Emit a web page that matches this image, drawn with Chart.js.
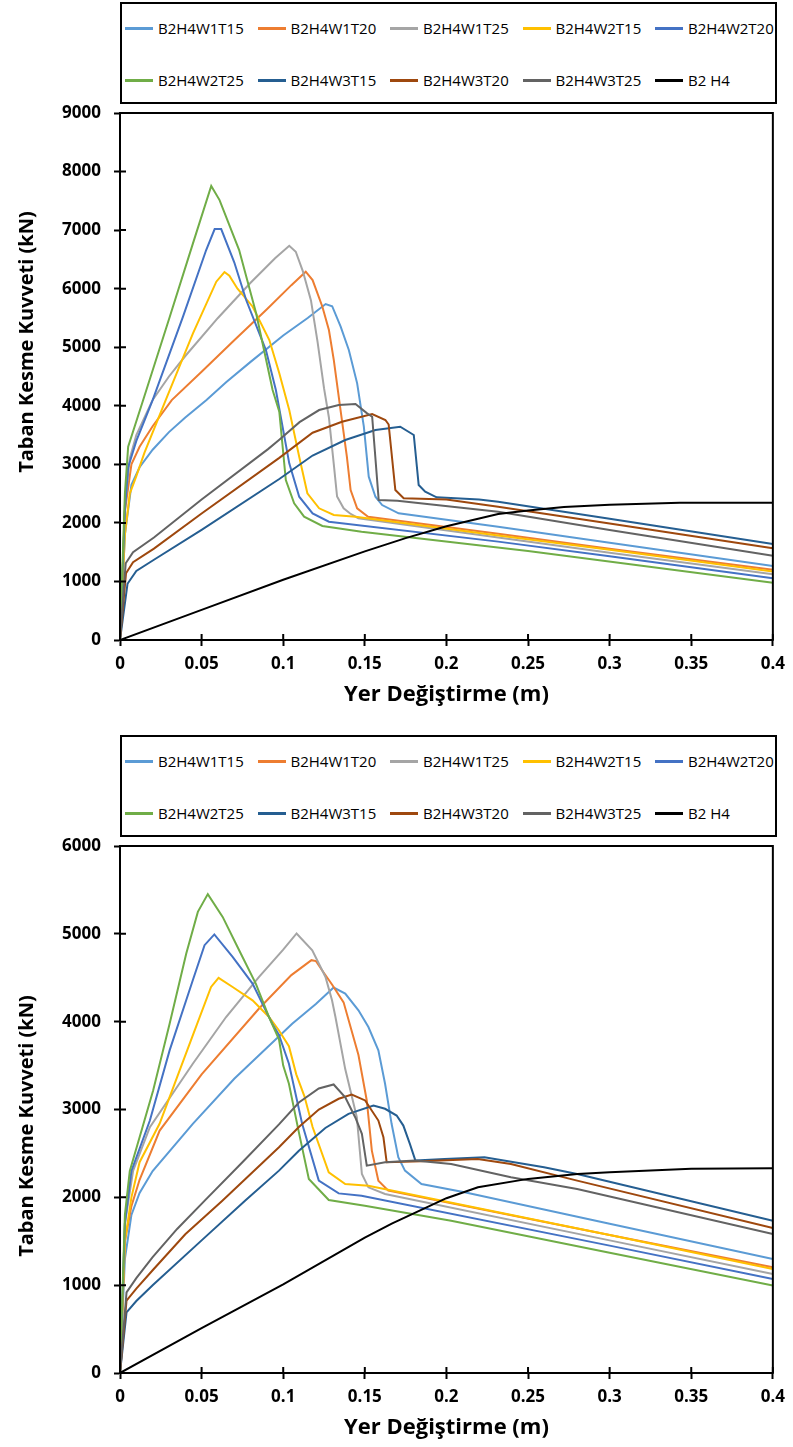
<!DOCTYPE html>
<html>
<head>
<meta charset="utf-8">
<script src="https://cdn.jsdelivr.net/npm/chart.js@4"></script>
<style>
    body { margin: 0; background: #fff; }
    .page { position: relative; width: 793px; height: 1447px; overflow: hidden; }
    .block { position: absolute; left: 0; width: 793px; height: 714px; }
    .legend {
        position: absolute; left: 120px; top: 2px; width: 657px; height: 102px;
        border: 2px solid #000; box-sizing: border-box; background: #fff;
    }
    .item {
        position: absolute; height: 20px; line-height: 20px; display: flex; align-items: center;
        font: 15px "Open Sans", sans-serif; color: #000; white-space: nowrap;
    }
    .item i { display: inline-block; width: 28px; height: 3px; margin-right: 5px; }
</style>
</head>
<body>
<div class="page">
    <div class="block" style="top:0">
        <canvas id="chart-top"></canvas>
        <div class="legend" id="legend-top"></div>
    </div>
    <div class="block" style="top:733px">
        <canvas id="chart-bottom"></canvas>
        <div class="legend" id="legend-bottom"></div>
    </div>
</div>
<script>
// Series names and colours (legend order)
const seriesNames = ["B2H4W1T15", "B2H4W1T20", "B2H4W1T25", "B2H4W2T15", "B2H4W2T20",
    "B2H4W2T25", "B2H4W3T15", "B2H4W3T20", "B2H4W3T25", "B2 H4"];
const seriesColors = ["#5B9BD5", "#ED7D31", "#A5A5A5", "#FFC000", "#4472C4",
    "#70AD47", "#255E91", "#9E480E", "#636363", "#000000"];

// Axis ranges
const xMax = 0.4;
const xStep = 0.05;
const yMaxTop = 9000;
const yMaxBottom = 6000;
const yStep = 1000;
const xTitle = "Yer Değiştirme (m)";
const yTitle = "Taban Kesme Kuvveti (kN)";

// Top chart: [displacement (m), base shear (kN)]
const topW1T15 = [[0,0],[0.003,1800],[0.007,2650],[0.012,2950],[0.02,3250],[0.03,3550],[0.04,3800],[0.053,4100],[0.065,4400],[0.08,4750],[0.1,5200],[0.115,5500],[0.126,5738],[0.13,5700],[0.1352,5350],[0.1402,4952],[0.1453,4383],[0.1494,3643],[0.1524,2789],[0.1565,2447],[0.1606,2305],[0.1707,2163],[0.2317,1935],[0.3,1660],[0.4,1264]];
const topW1T20 = [[0,0],[0.003,2200],[0.007,3000],[0.012,3300],[0.02,3650],[0.0317,4098],[0.05,4580],[0.07,5120],[0.09,5650],[0.105,6060],[0.1138,6290],[0.118,6147],[0.124,5692],[0.128,5294],[0.131,4781],[0.135,3950],[0.139,3130],[0.1413,2561],[0.1453,2249],[0.152,2106],[0.2317,1815],[0.3,1560],[0.4,1200]];
const topW1T25 = [[0,0],[0.003,2300],[0.006,3100],[0.01,3500],[0.02,4100],[0.03,4500],[0.04,4850],[0.06,5500],[0.08,6100],[0.095,6520],[0.1037,6733],[0.1077,6631],[0.112,6300],[0.117,5800],[0.121,5100],[0.125,4300],[0.128,3800],[0.131,3000],[0.133,2450],[0.137,2250],[0.141,2160],[0.146,2080],[0.2317,1750],[0.3,1490],[0.4,1121]];
const topW2T15 = [[0,0],[0.003,1800],[0.006,2500],[0.01,2800],[0.015,3200],[0.028,4098],[0.0447,5238],[0.059,6119],[0.064,6284],[0.067,6220],[0.072,6000],[0.0813,5692],[0.0915,5123],[0.0976,4554],[0.1037,3927],[0.1098,3130],[0.1148,2505],[0.122,2249],[0.131,2135],[0.1443,2106],[0.2317,1786],[0.3,1540],[0.4,1170]];
const topW2T20 = [[0,0],[0.003,2200],[0.005,2950],[0.01,3400],[0.02,4098],[0.0386,5521],[0.0528,6660],[0.058,7018],[0.062,7018],[0.07,6450],[0.0773,5806],[0.0894,4952],[0.0955,4269],[0.1037,3017],[0.1098,2447],[0.118,2163],[0.128,2020],[0.2317,1680],[0.3,1430],[0.4,1053]];
const topW2T25 = [[0,0],[0.003,2500],[0.005,3300],[0.0142,4098],[0.0305,5521],[0.0447,6774],[0.0559,7753],[0.061,7513],[0.073,6660],[0.0834,5579],[0.0935,4269],[0.0976,3900],[0.1016,2732],[0.1067,2334],[0.1128,2106],[0.124,1947],[0.148,1850],[0.25,1520],[0.4,979]];
const topW3T15 = [[0,0],[0.0046,960],[0.01,1180],[0.0208,1370],[0.05,1880],[0.0976,2750],[0.118,3150],[0.138,3415],[0.1565,3586],[0.1717,3643],[0.18,3501],[0.183,2647],[0.187,2533],[0.194,2437],[0.22,2400],[0.2317,2362],[0.3,2070],[0.4,1639]];
const topW3T20 = [[0,0],[0.0037,1140],[0.008,1330],[0.0208,1560],[0.05,2160],[0.0976,3110],[0.118,3540],[0.136,3728],[0.1545,3859],[0.1626,3757],[0.1646,3680],[0.1687,2561],[0.1738,2420],[0.2,2400],[0.2317,2277],[0.3,1990],[0.4,1565]];
const topW3T25 = [[0,0],[0.0035,1310],[0.008,1500],[0.0208,1750],[0.05,2400],[0.0907,3260],[0.0976,3420],[0.11,3720],[0.122,3927],[0.134,4013],[0.1443,4030],[0.1514,3871],[0.1545,3813],[0.1585,2391],[0.17,2380],[0.2317,2191],[0.3,1880],[0.4,1440]];
const topB2H4 = [[0,0],[0.05,514],[0.1,1028],[0.15,1514],[0.175,1740],[0.2,1943],[0.2317,2150],[0.25,2210],[0.272,2270],[0.3,2310],[0.343,2345],[0.4,2345]];

// Bottom chart: [displacement (m), base shear (kN)]
const botW1T15 = [[0,0],[0.003,1300],[0.007,1800],[0.012,2050],[0.02,2300],[0.0446,2837],[0.07,3350],[0.1055,3977],[0.12,4200],[0.1309,4388],[0.138,4319],[0.1461,4129],[0.1522,3939],[0.1583,3673],[0.1624,3293],[0.1664,2837],[0.1705,2456],[0.1746,2304],[0.1847,2152],[0.2111,2057],[0.3,1700],[0.4,1298]];
const botW1T20 = [[0,0],[0.003,1500],[0.007,1900],[0.012,2200],[0.0243,2760],[0.05,3400],[0.0852,4150],[0.105,4530],[0.1173,4700],[0.12,4690],[0.1238,4585],[0.13,4420],[0.137,4220],[0.1461,3620],[0.1512,3103],[0.1543,2532],[0.1583,2190],[0.1644,2076],[0.3,1570],[0.4,1203]];
const botW1T25 = [[0,0],[0.003,1700],[0.008,2300],[0.0183,2798],[0.0446,3521],[0.065,4053],[0.0852,4509],[0.1,4820],[0.1082,5004],[0.1178,4813],[0.1259,4509],[0.1299,4243],[0.132,4053],[0.138,3460],[0.1451,2912],[0.1482,2266],[0.1522,2114],[0.1624,2038],[0.3,1510],[0.4,1127]];
const botW2T15 = [[0,0],[0.003,1500],[0.007,2000],[0.012,2400],[0.0243,2840],[0.0304,3140],[0.0446,3844],[0.0558,4395],[0.0604,4498],[0.069,4395],[0.0812,4243],[0.0913,4053],[0.0974,3900],[0.1035,3720],[0.108,3400],[0.113,3150],[0.118,2800],[0.1279,2285],[0.138,2152],[0.1522,2133],[0.3,1570],[0.4,1184]];
const botW2T20 = [[0,0],[0.003,1700],[0.007,2300],[0.0183,2874],[0.0304,3673],[0.0446,4471],[0.0518,4871],[0.0578,4993],[0.069,4737],[0.0812,4434],[0.0933,3977],[0.0974,3850],[0.1035,3521],[0.1116,2837],[0.1218,2190],[0.134,2045],[0.148,2019],[0.3,1450],[0.4,1070]];
const botW2T25 = [[0,0],[0.003,1800],[0.006,2300],[0.0132,2760],[0.0203,3217],[0.0304,3977],[0.0406,4776],[0.0477,5250],[0.0538,5452],[0.0629,5193],[0.073,4813],[0.0832,4434],[0.0913,4053],[0.0974,3800],[0.1,3500],[0.1035,3293],[0.1096,2740],[0.1157,2209],[0.1279,1970],[0.15,1905],[0.2029,1734],[0.3,1370],[0.4,995]];
const botW3T15 = [[0,0],[0.004,691],[0.01,820],[0.02,1000],[0.05,1510],[0.0766,1962],[0.0974,2304],[0.1096,2530],[0.1258,2790],[0.14,2951],[0.1553,3046],[0.1624,3008],[0.1695,2931],[0.1736,2817],[0.1776,2608],[0.181,2418],[0.1989,2437],[0.2233,2456],[0.2598,2342],[0.2801,2266],[0.4,1734]];
const botW3T20 = [[0,0],[0.004,823],[0.01,960],[0.02,1170],[0.04,1580],[0.0627,1962],[0.0974,2570],[0.1096,2800],[0.1218,3000],[0.134,3122],[0.142,3171],[0.1502,3103],[0.1583,2874],[0.1614,2684],[0.1634,2399],[0.1847,2410],[0.2192,2437],[0.2395,2380],[0.2801,2190],[0.4,1650]];
const botW3T25 = [[0,0],[0.004,918],[0.01,1080],[0.02,1320],[0.035,1640],[0.0519,1962],[0.075,2400],[0.0974,2830],[0.1096,3080],[0.1218,3240],[0.1309,3285],[0.138,3140],[0.1441,2912],[0.1482,2723],[0.1512,2361],[0.1624,2399],[0.1807,2418],[0.2029,2380],[0.2395,2228],[0.2801,2095],[0.4,1582]];
const botB2H4 = [[0,0],[0.05,510],[0.1,1010],[0.15,1540],[0.1665,1700],[0.2,1990],[0.2193,2114],[0.25,2210],[0.2802,2266],[0.3,2285],[0.35,2325],[0.4,2330]];

const topSeries = [topW1T15, topW1T20, topW1T25, topW2T15, topW2T20, topW2T25, topW3T15, topW3T20, topW3T25, topB2H4];
const botSeries = [botW1T15, botW1T20, botW1T25, botW2T15, botW2T20, botW2T25, botW3T15, botW3T20, botW3T25, botB2H4];

Chart.defaults.font.family = "'Open Sans', sans-serif";
Chart.defaults.color = "#000";

// Plot frame, inner half of the cross tick marks and the rotated y title
const framePlugin = {
    id: "frame",
    afterDraw(chart, args, opts) {
        const { ctx, chartArea: a } = chart;
        const xs = chart.scales.x;
        const ys = chart.scales.y;
        ctx.save();
        ctx.strokeStyle = "#000";
        ctx.lineWidth = 2;
        ctx.strokeRect(a.left, a.top, a.right - a.left, a.bottom - a.top);

        ctx.beginPath();
        xs.ticks.forEach((t, i) => {
            const px = xs.getPixelForTick(i);
            ctx.moveTo(px, a.bottom);
            ctx.lineTo(px, a.bottom - 6);
        });
        ys.ticks.forEach((t, i) => {
            const py = ys.getPixelForTick(i);
            ctx.moveTo(a.left, py);
            ctx.lineTo(a.left + 6, py);
        });
        ctx.stroke();

        ctx.translate(opts.titleX, opts.titleY);
        ctx.rotate(-Math.PI / 2);
        ctx.font = "bold 20px 'Open Sans'";
        ctx.fillStyle = "#000";
        ctx.textAlign = "center";
        ctx.textBaseline = "middle";
        ctx.fillText(yTitle, 0, 0);
        ctx.restore();
    },
};

function makeChart(canvasId, series, yMax, titleY) {
    const datasets = series.map((data, i) => ({
        label: seriesNames[i],
        data: data,
        borderColor: seriesColors[i],
        backgroundColor: seriesColors[i],
        borderWidth: 2,
        pointRadius: 0,
        tension: 0,
        fill: false,
        order: series.length - i, // later series drawn on top, as in the source
    }));

    return new Chart(document.getElementById(canvasId), {
        type: "line",
        data: { datasets: datasets },
        options: {
            responsive: true,
            maintainAspectRatio: false,
            animation: false,
            events: [],
            layout: { padding: { top: 113, right: 16, left: 0, bottom: 0 } },
            plugins: {
                legend: { display: false },
                tooltip: { enabled: false },
                frame: { titleX: 27, titleY: titleY },
            },
            scales: {
                x: {
                    type: "linear",
                    min: 0,
                    max: xMax,
                    afterFit: (scale) => { scale.height = 74; },
                    border: { display: true, color: "#000", width: 2 },
                    grid: { drawOnChartArea: false, drawTicks: true, tickLength: 6, tickColor: "#000", tickWidth: 2 },
                    ticks: {
                        stepSize: xStep,
                        autoSkip: false,
                        maxRotation: 0,
                        padding: 8,
                        font: { size: 17, weight: "bold" },
                        callback: (v) => String(+v.toFixed(2)),
                    },
                    title: {
                        display: true,
                        text: xTitle,
                        font: { size: 22, weight: "bold" },
                        padding: { top: 0, bottom: 6 },
                    },
                },
                y: {
                    min: 0,
                    max: yMax,
                    afterFit: (scale) => { scale.width = 120; },
                    border: { display: true, color: "#000", width: 2 },
                    grid: { drawOnChartArea: false, drawTicks: true, tickLength: 6, tickColor: "#000", tickWidth: 2 },
                    ticks: {
                        stepSize: yStep,
                        padding: 13,
                        font: { size: 17, weight: "bold" },
                        callback: (v) => String(v),
                    },
                },
            },
        },
        plugins: [framePlugin],
    });
}

// Boxed legend, two rows of five entries
function makeLegend(legendId) {
    const box = document.getElementById(legendId);
    seriesNames.forEach((name, i) => {
        const item = document.createElement("div");
        item.className = "item";
        item.style.left = (3 + (i % 5) * 132.5) + "px";
        item.style.top = (14 + Math.floor(i / 5) * 52) + "px";
        const swatch = document.createElement("i");
        swatch.style.background = seriesColors[i];
        item.appendChild(swatch);
        item.appendChild(document.createTextNode(name));
        box.appendChild(item);
    });
}

makeChart("chart-top", topSeries, yMaxTop, 342);
makeChart("chart-bottom", botSeries, yMaxBottom, 393);
makeLegend("legend-top");
makeLegend("legend-bottom");
</script>
</body>
</html>
